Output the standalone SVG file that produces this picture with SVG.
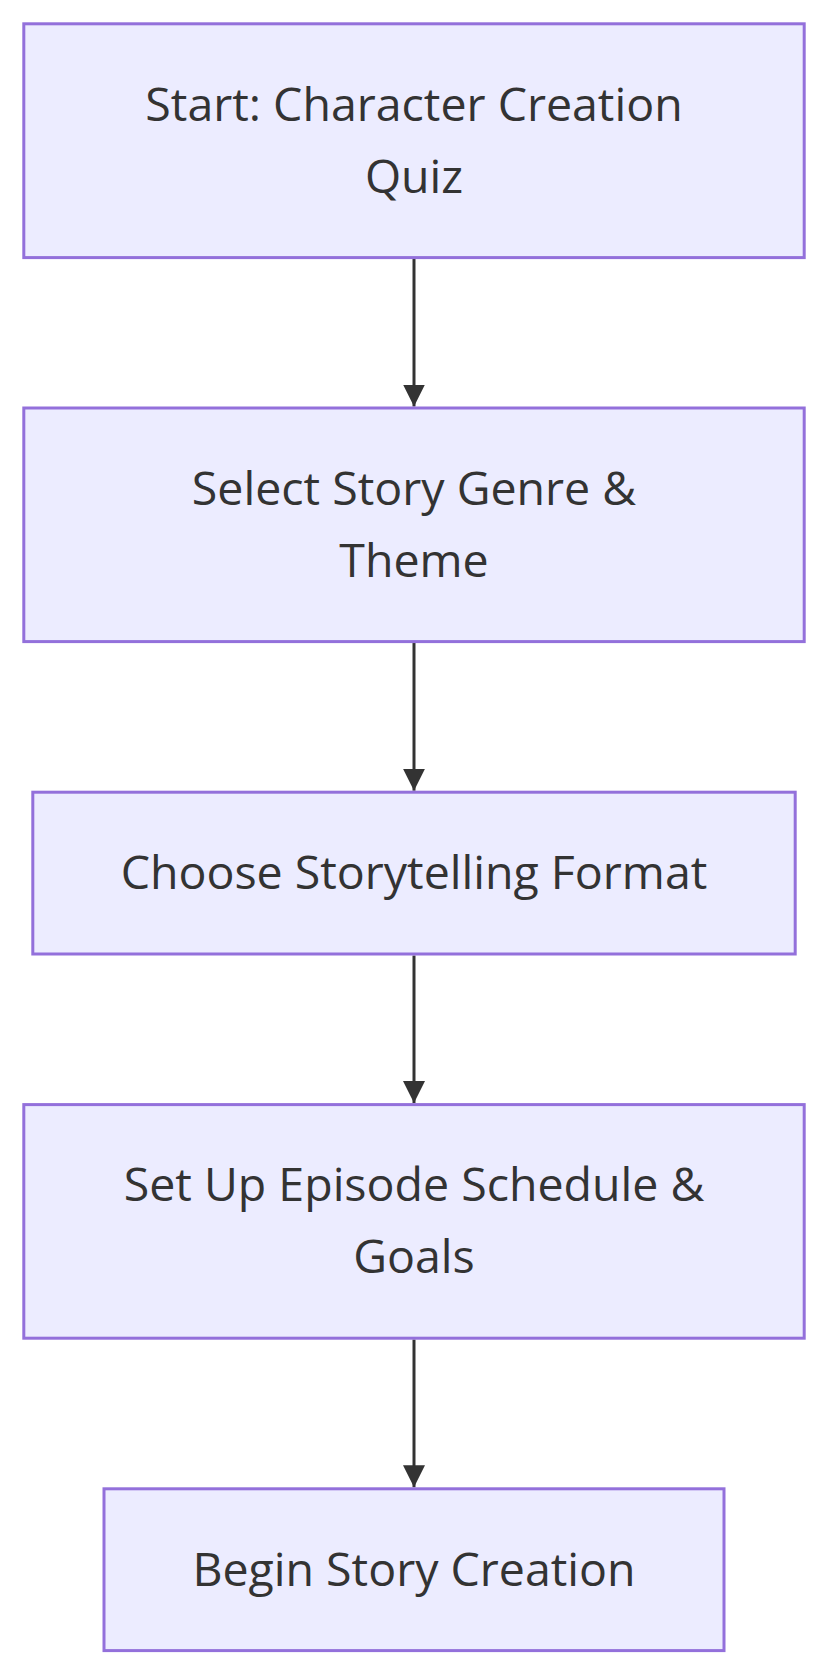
<svg xmlns="http://www.w3.org/2000/svg" width="828" height="1674" viewBox="0 0 828 1674">
<style>
.node rect{fill:#ECECFF;stroke:#9370DB;stroke-width:3}
.node text{font-family:"Open Sans","Noto Sans","Liberation Sans",sans-serif;font-size:46.5px;font-weight:500;fill:#333333;text-anchor:middle}
.edge{stroke:#333333;stroke-width:3;fill:none}
</style>
<defs>
<marker id="arrow" viewBox="0 0 10 10" refX="10" refY="5" markerWidth="22" markerHeight="24" markerUnits="userSpaceOnUse" orient="auto">
<path d="M0,0 L10,5 L0,10 z" fill="#333333"/>
</marker>
</defs>
<rect width="828" height="1674" fill="#ffffff"/>
<g id="connectors">
<line class="edge" x1="414" y1="259" x2="414" y2="406.5" marker-end="url(#arrow)"/>
<line class="edge" x1="414" y1="643" x2="414" y2="790.7" marker-end="url(#arrow)"/>
<line class="edge" x1="414" y1="955.5" x2="414" y2="1103" marker-end="url(#arrow)"/>
<line class="edge" x1="414" y1="1339.5" x2="414" y2="1487.3" marker-end="url(#arrow)"/>
</g>
<g id="node1" class="node">
<rect x="23.8" y="23.8" width="780.4" height="233.8"/>
<text x="414" y="120.8">Start: Character Creation</text>
<text x="414" y="192.8">Quiz</text>
</g>
<g id="node2" class="node">
<rect x="23.8" y="408" width="780.4" height="233.6"/>
<text x="414" y="504.8">Select Story Genre &amp;</text>
<text x="414" y="576.8">Theme</text>
</g>
<g id="node3" class="node">
<rect x="32.8" y="792.2" width="762.4" height="161.8"/>
<text x="414" y="889.2">Choose Storytelling Format</text>
</g>
<g id="node4" class="node">
<rect x="23.8" y="1104.6" width="780.4" height="233.6"/>
<text x="414" y="1201.4">Set Up Episode Schedule &amp;</text>
<text x="414" y="1273.4">Goals</text>
</g>
<g id="node5" class="node">
<rect x="104" y="1488.8" width="620" height="161.8"/>
<text x="414" y="1585.7">Begin Story Creation</text>
</g>
</svg>
